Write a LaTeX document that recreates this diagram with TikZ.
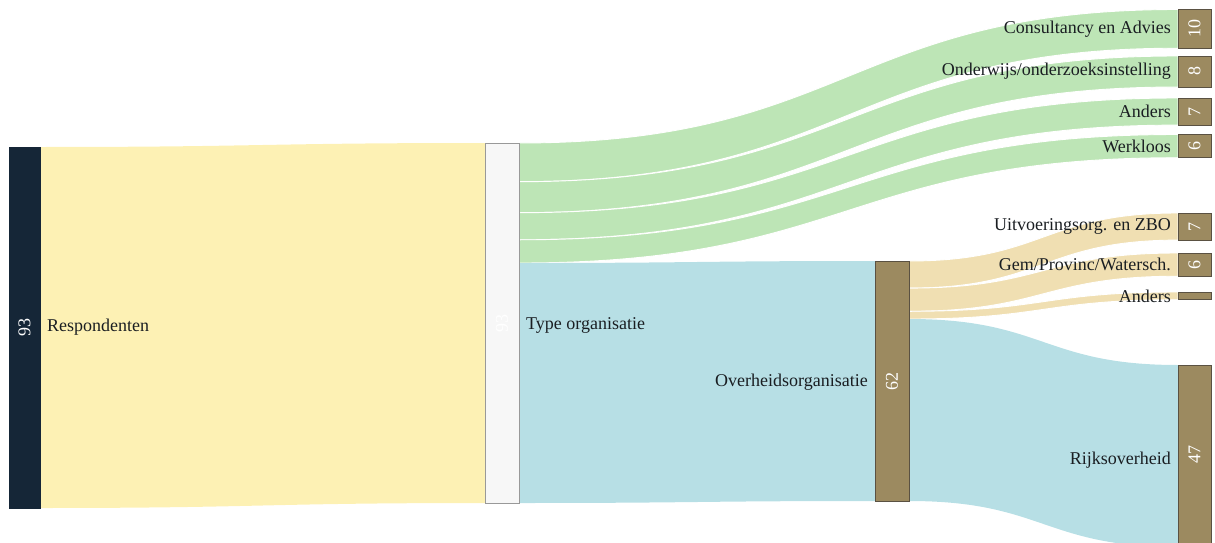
\documentclass[tikz,border=0pt]{standalone}
\usepackage{fontspec}
\setmainfont{Liberation Serif}
\usetikzlibrary{calc,backgrounds}
\definecolor{navy}{HTML}{152637}
\definecolor{khaki}{HTML}{9C8A60}
\definecolor{khakiedge}{HTML}{5A5142}
\definecolor{pale}{HTML}{F7F7F7}
\definecolor{paleedge}{HTML}{999999}
\definecolor{yellowlink}{HTML}{FDF1B4}
\definecolor{greenlink}{HTML}{BDE5B6}
\definecolor{bluelink}{HTML}{B7DFE5}
\definecolor{tanlink}{HTML}{F0DFB2}
\definecolor{txt}{HTML}{1A1E22}
\newcommand\ribbon[5]{%
  \fill[#1] let \p1=(#2), \p2=(#3), \p3=(#4), \p4=(#5) in
    (\p1) .. controls ({0.5*(\x1+\x3)},\y1) and ({0.5*(\x1+\x3)},\y3) .. (\p3)
    -- (\p4) .. controls ({0.5*(\x1+\x3)},\y4) and ({0.5*(\x1+\x3)},\y2) .. (\p2) -- cycle;}
\tikzset{
  sknode/.style={draw=khakiedge, fill=khaki, line width=0.8pt, inner sep=0pt, outer sep=0pt,
    minimum width=33pt, anchor=north west},
  lbl/.style={text=txt, font=\fontsize{18}{20}\selectfont, inner sep=0pt},
  num/.style={text=white, rotate=90, font=\fontsize{18}{20}\selectfont, inner sep=0pt},
  sep/.style={draw=white, line width=0.9pt}
}
\begin{document}
\begin{tikzpicture}[x=1pt,y=-1pt]
\useasboundingbox (0,0) rectangle (1215,543);
\clip (0,0) rectangle (1215,543);
% nodes
\node[sknode, draw=navy, fill=navy, minimum width=31pt, minimum height=361pt] (resp) at (9,147) {};
\node[sknode, draw=paleedge, fill=pale, minimum width=34pt, minimum height=360pt] (typ) at (485,143) {};
\node[sknode, minimum width=34pt, minimum height=240pt] (ovh) at (875,261) {};
\node[sknode, minimum height=38.7pt] (cons) at (1178,9.5) {};
\node[sknode, minimum height=31pt] (ond) at (1178,56) {};
\node[sknode, minimum height=27.1pt] (and1) at (1178,98) {};
\node[sknode, minimum height=23.2pt] (werk) at (1178,134.5) {};
\node[sknode, minimum height=27.1pt] (uitv) at (1178,213) {};
\node[sknode, minimum height=23.2pt] (gem) at (1178,253) {};
\node[sknode, minimum height=7.7pt] (and2) at (1178,292) {};
\node[sknode, minimum height=182pt] (rijk) at (1178,365) {};
% links
\begin{pgfonlayer}{background}
\ribbon{yellowlink}{resp.north east}{resp.south east}{typ.north west}{typ.south west}
\ribbon{greenlink,sep}{typ.north east}{$(typ.north east)+(0,38.7)$}{cons.north west}{cons.south west}
\ribbon{greenlink,sep}{$(typ.north east)+(0,38.7)$}{$(typ.north east)+(0,69.7)$}{ond.north west}{ond.south west}
\ribbon{greenlink,sep}{$(typ.north east)+(0,69.7)$}{$(typ.north east)+(0,96.8)$}{and1.north west}{and1.south west}
\ribbon{greenlink,sep}{$(typ.north east)+(0,96.8)$}{$(typ.north east)+(0,120)$}{werk.north west}{werk.south west}
\ribbon{bluelink}{$(typ.north east)+(0,120)$}{typ.south east}{ovh.north west}{ovh.south west}
\ribbon{tanlink,sep}{ovh.north east}{$(ovh.north east)+(0,27.1)$}{uitv.north west}{uitv.south west}
\ribbon{tanlink,sep}{$(ovh.north east)+(0,27.1)$}{$(ovh.north east)+(0,50.3)$}{gem.north west}{gem.south west}
\ribbon{tanlink,sep}{$(ovh.north east)+(0,50.3)$}{$(ovh.north east)+(0,58)$}{and2.north west}{and2.south west}
\ribbon{bluelink}{$(ovh.north east)+(0,58)$}{ovh.south east}{rijk.north west}{rijk.south west}
\end{pgfonlayer}
% numbers
\node[num] (nresp) at (resp.center) {93};
\node[num] (ntyp) at (typ.center) {93};
\node[num] (novh) at (ovh.center) {62};
\node[num] (ncons) at (cons.center) {10};
\node[num] (nond) at (ond.center) {8};
\node[num] (nand1) at (and1.center) {7};
\node[num] (nwerk) at (werk.center) {6};
\node[num] (nuitv) at (uitv.center) {7};
\node[num] (ngem) at (gem.center) {6};
\node[num] (nrijk) at ($(rijk.north)+(0,89)$) {47};
% labels
\node[lbl, anchor=west] (lresp) at ($(resp.east)+(7,0)$) {Respondenten};
\node[lbl, anchor=west] (ltyp) at ($(typ.east)+(7,2)$) {Type organisatie};
\node[lbl, anchor=east] (lovh) at ($(ovh.west)+(-7,1)$) {Overheidsorganisatie};
\node[lbl, anchor=east] (lcons) at ($(cons.west)+(-7,0)$) {Consultancy en Advies};
\node[lbl, anchor=east] (lond) at ($(ond.west)+(-7,0)$) {Onderwijs/onderzoeksinstelling};
\node[lbl, anchor=east] (land1) at ($(and1.west)+(-7,0)$) {Anders};
\node[lbl, anchor=east] (lwerk) at ($(werk.west)+(-7,0)$) {Werkloos};
\node[lbl, anchor=east] (luitv) at ($(uitv.west)+(-7,0)$) {Uitvoeringsorg. en ZBO};
\node[lbl, anchor=east] (lgem) at ($(gem.west)+(-7,0)$) {Gem/Provinc/Watersch.};
\node[lbl, anchor=east] (land2) at ($(and2.west)+(-7,0)$) {Anders};
\node[lbl, anchor=east] (lrijk) at ($(rijk.north west)+(-7,95)$) {Rijksoverheid};
\end{tikzpicture}
\end{document}
